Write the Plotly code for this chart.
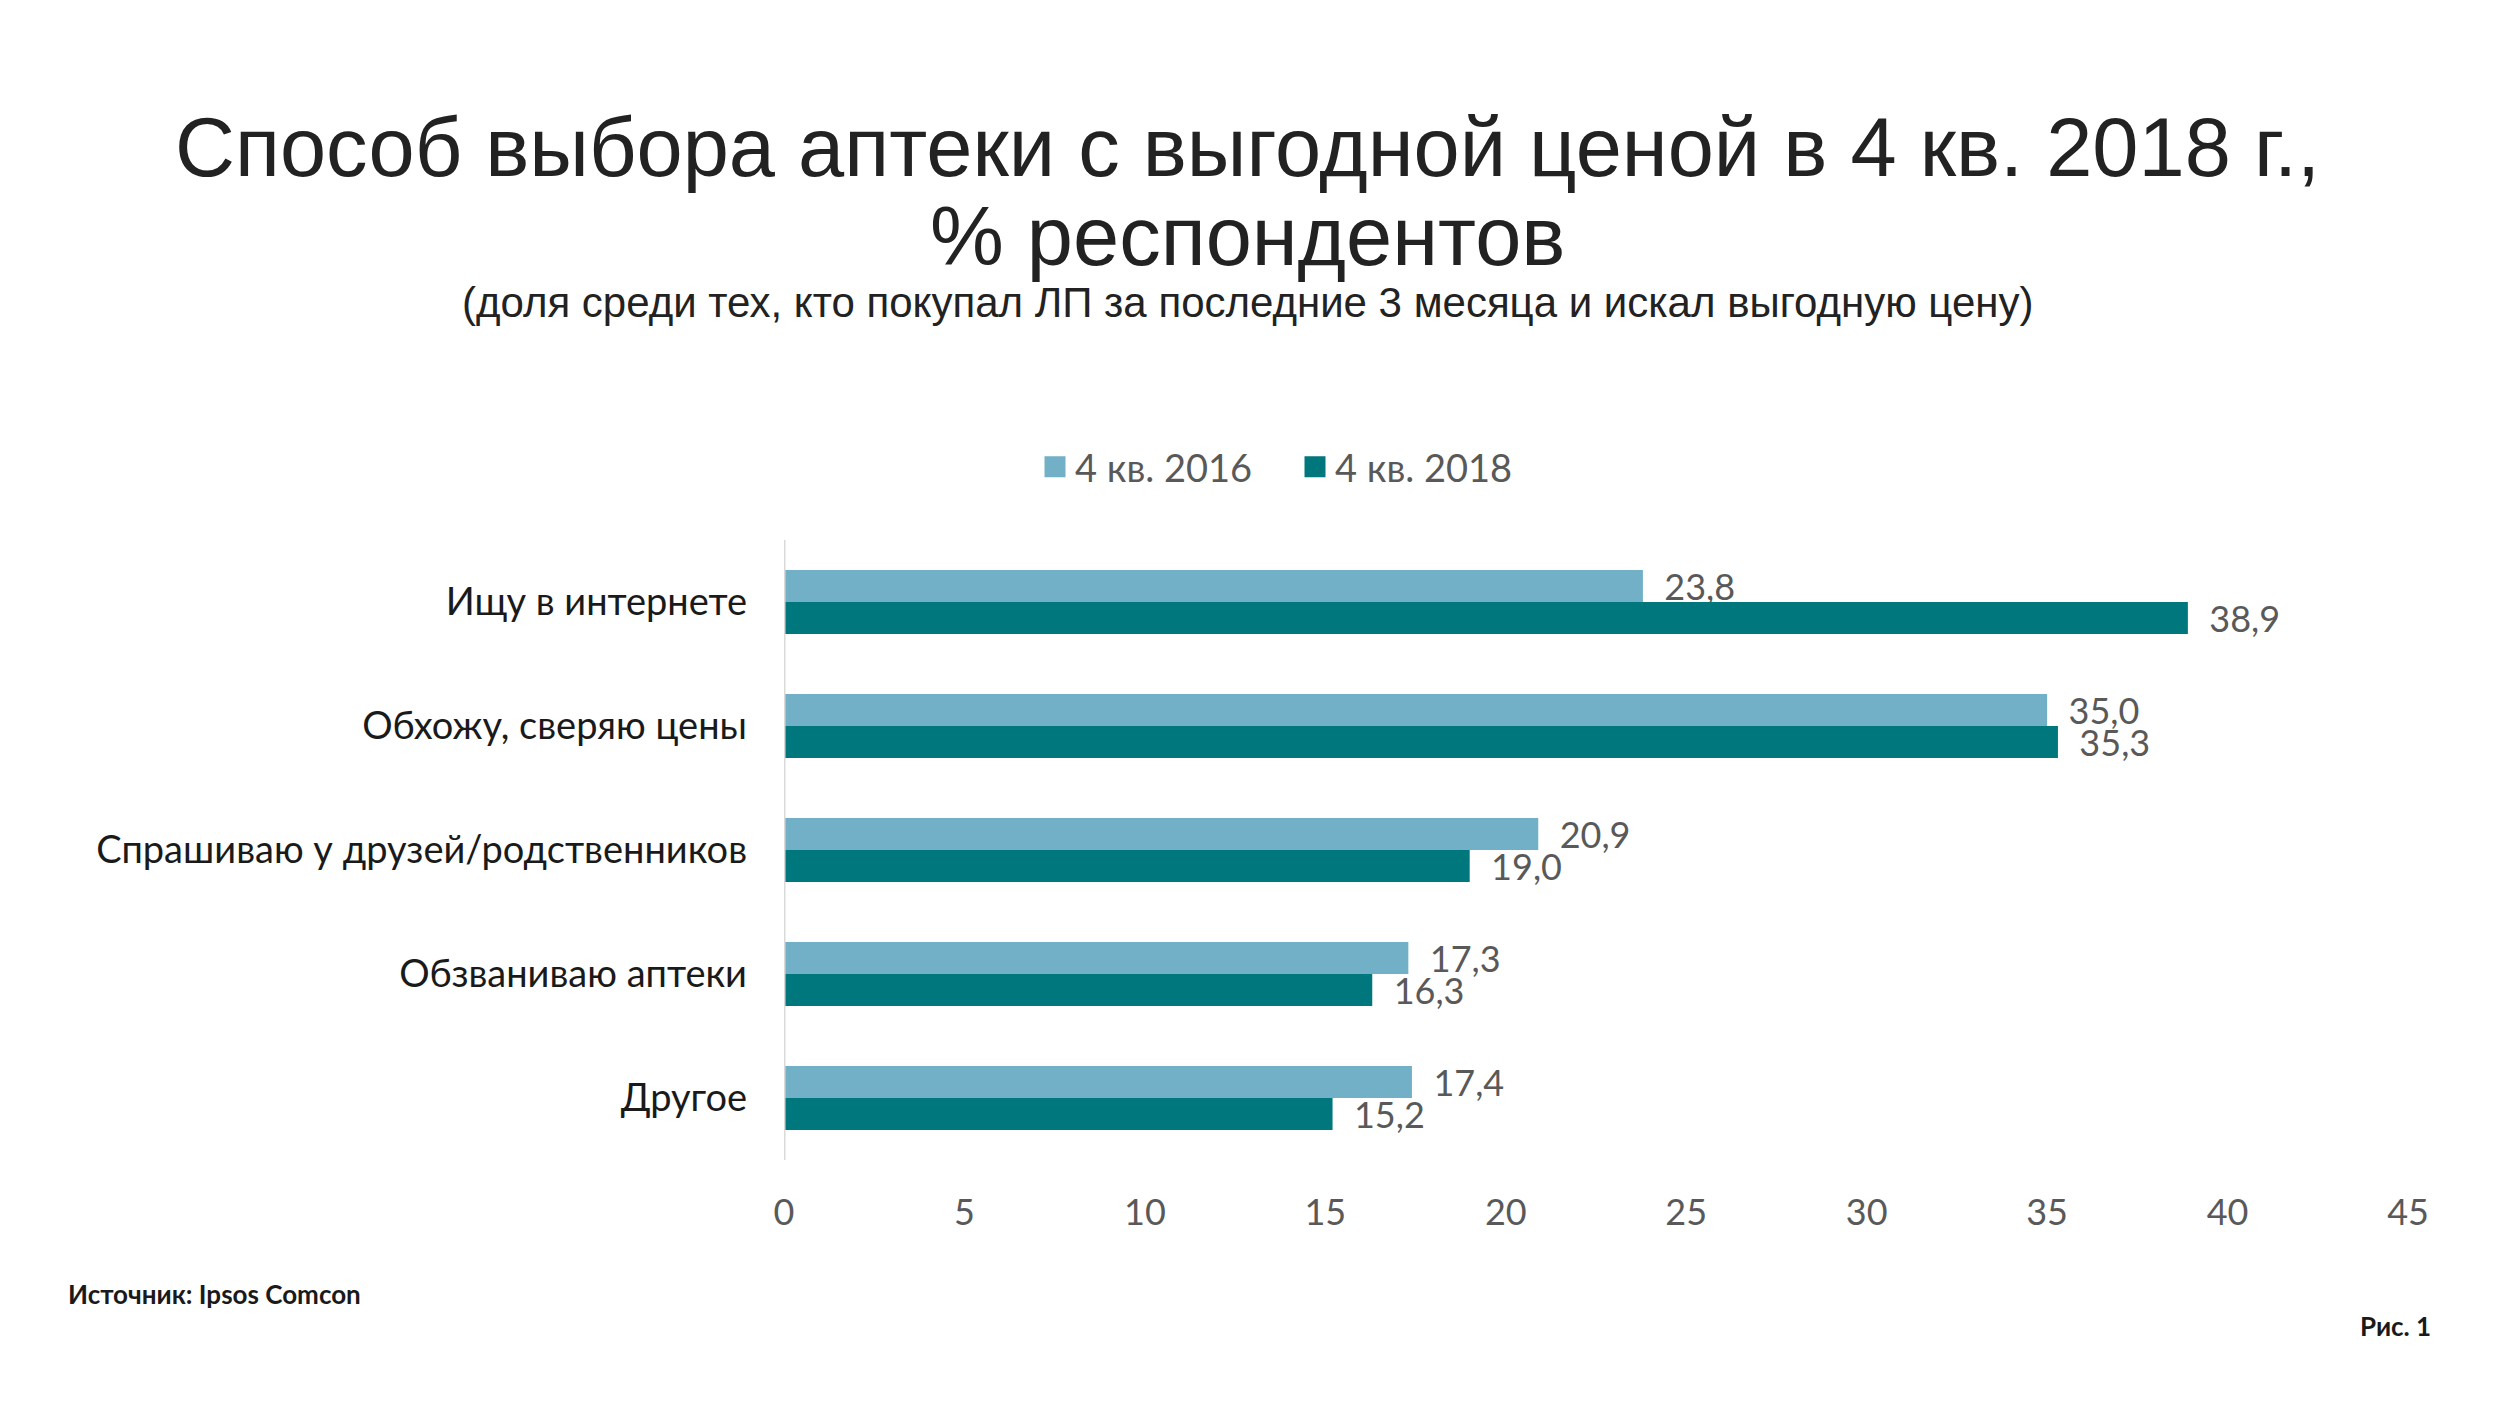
import plotly.graph_objects as go

# Data
categories = [
    'Ищу в интернете',
    'Обхожу, сверяю цены',
    'Спрашиваю у друзей/родственников',
    'Обзваниваю аптеки',
    'Другое',
]
q4_2016 = [23.8, 35.0, 20.9, 17.3, 17.4]
q4_2018 = [38.9, 35.3, 19.0, 16.3, 15.2]
series_names = ['4 кв. 2016', '4 кв. 2018']
x_ticks = [0, 5, 10, 15, 20, 25, 30, 35, 40, 45]

W, H = 2500, 1406
L, R, T, B = 776, 100, 532, 254
plot_w = W - L - R
plot_h = H - T - B


def px_x(x):
    return (x - L) / plot_w


def px_y(y):
    return (H - B - y) / plot_h


def fmt(v):
    return f'{v:.1f}'.replace('.', ',')


fig = go.Figure()

colors = ['#71B0C7', '#00767D']
for name, vals, col in zip(series_names, [q4_2016, q4_2018], colors):
    fig.add_trace(go.Bar(
        y=categories,
        x=vals,
        name=name,
        orientation='h',
        marker=dict(color=col, line=dict(width=0)),
        text=[fmt(v) for v in vals],
        texttemplate='  %{text}',
        textposition='outside',
        constraintext='none',
        cliponaxis=False,
        textfont=dict(family='Lato', size=36, color='#595959'),
        hoverinfo='skip',
        showlegend=False,
    ))
    # legend entry with a larger square swatch
    fig.add_trace(go.Scatter(
        x=[None], y=[None], mode='markers', name=name,
        marker=dict(symbol='square', size=16, color=col,
                    line=dict(color=col, width=5)),
        hoverinfo='skip',
    ))

fig.update_layout(
    width=W,
    height=H,
    margin=dict(l=L, r=R, t=T, b=B),
    paper_bgcolor='white',
    plot_bgcolor='white',
    barmode='group',
    bargap=0.484,
    bargroupgap=0,
    showlegend=True,
    legend=dict(
        orientation='h',
        x=px_x(1287),
        y=px_y(459),
        xanchor='center',
        yanchor='middle',
        font=dict(family='Lato', size=38, color='#595959'),
        itemwidth=30,
        itemsizing='trace',
        entrywidth=215,
        entrywidthmode='pixels',
        tracegroupgap=0,
    ),
    xaxis=dict(
        range=[0, 45],
        tickvals=x_ticks,
        showgrid=False,
        zeroline=False,
        showline=False,
        ticks='',
        ticklabelstandoff=28,
        tickfont=dict(family='Lato', size=36, color='#595959'),
    ),
    yaxis=dict(
        autorange='reversed',
        showgrid=False,
        zeroline=False,
        showline=False,
        ticks='',
        ticklabelstandoff=36,
        tickfont=dict(family='Lato', size=38, color='#1a1a1a'),
    ),
    shapes=[
        dict(type='line', xref='x', yref='paper', x0=0, x1=0, y0=0, y1=1,
             line=dict(color='#D9D9D9', width=3)),
    ],
)

annotations = [
    dict(text='Способ выбора аптеки с выгодной ценой в 4 кв. 2018 г.,',
         x=px_x(1239), y=px_y(139), size=83, family='Liberation Sans', color='#222222', anchor='center'),
    dict(text='% респондентов',
         x=px_x(1239), y=px_y(229), size=83, family='Liberation Sans', color='#222222', anchor='center'),
    dict(text='(доля среди тех, кто покупал ЛП за последние 3 месяца и искал выгодную цену)',
         x=px_x(1239), y=px_y(294), size=42, family='Liberation Sans', color='#222222', anchor='center'),
    dict(text='<b>Источник: Ipsos Comcon</b>',
         x=px_x(58), y=px_y(1286), size=26, family='Lato', color='#1a1a1a', anchor='left'),
    dict(text='<b>Рис. 1</b>',
         x=px_x(2425), y=px_y(1318), size=26, family='Lato', color='#1a1a1a', anchor='right'),
]
for a in annotations:
    fig.add_annotation(
        text=a['text'], xref='paper', yref='paper', x=a['x'], y=a['y'],
        xanchor=a['anchor'], yanchor='middle', showarrow=False,
        font=dict(family=a['family'], size=a['size'], color=a['color']),
    )

fig.write_html('out.html')
